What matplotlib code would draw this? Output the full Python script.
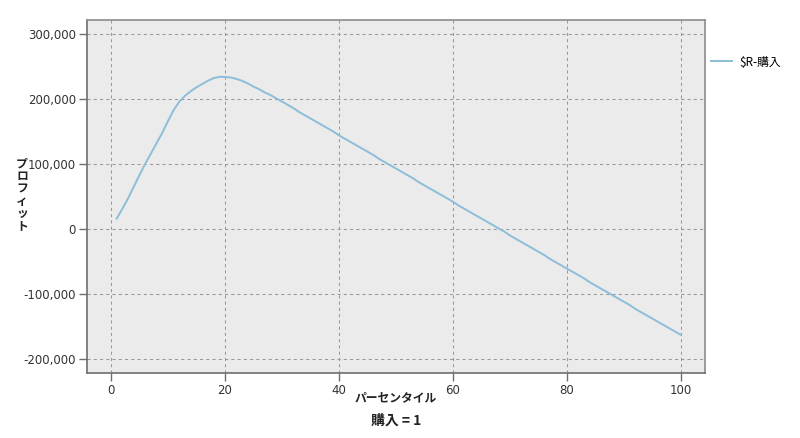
import matplotlib
matplotlib.use("Agg")
import matplotlib.pyplot as plt
from matplotlib.ticker import FuncFormatter

plt.rcParams['font.family'] = ['DejaVu Sans', 'Noto Sans CJK JP']

percentile = list(range(1, 101))
profit_k = [16, 31, 47, 65, 83, 100, 116, 132, 148, 166,
            183, 196, 205, 212, 218, 223, 228, 232, 234, 234,
            233, 231, 228, 224, 219, 215, 210, 206, 201, 196,
            191, 186, 180, 175, 170, 165, 160, 155, 150, 144,
            139, 134, 129, 124, 119, 114, 108, 103, 98, 93,
            88, 83, 78, 72, 67, 62, 57, 52, 47, 42,
            36, 31, 26, 21, 16, 11, 6, 1, -4, -10,
            -15, -20, -25, -30, -35, -40, -46, -51, -56, -61,
            -66, -71, -76, -82, -87, -92, -97, -102, -107, -112,
            -117, -123, -128, -133, -138, -143, -148, -153, -158, -163]
profit = [v * 1000 for v in profit_k]
x_ticks = [0, 20, 40, 60, 80, 100]
y_ticks = [-200000, -100000, 0, 100000, 200000, 300000]
series_label = "$R-購入"
x_label = "パーセンタイル"
y_label = "プロフィット"
panel_title = "購入 = 1"

fig = plt.figure(figsize=(8, 4.38), dpi=100)
ax = fig.add_axes([87/800, 1-373/438, 618/800, 353/438])
ax.set_facecolor('#EBEBEB')
line, = ax.plot(percentile, profit, color='#8DBDD8', lw=1.4, label=series_label)
ax.set_xlim(-4.2, 104.2)
ax.set_ylim(-221500, 321500)
ax.set_xticks(x_ticks)
ax.set_yticks(y_ticks)
ax.yaxis.set_major_formatter(FuncFormatter(lambda v, p: f"{int(v):,}"))
ax.grid(True, color='#999999', linestyle=(0, (3, 3)), linewidth=0.75)
ax.set_axisbelow(True)
for s in ax.spines.values():
    s.set_color('#8C8C8C')
    s.set_linewidth(1.2)
ax.spines['left'].set_color('#6E6E6E')
ax.spines['bottom'].set_color('#6E6E6E')
ax.tick_params(axis='both', direction='out', length=6, width=1, color='#6E6E6E',
               labelsize=8.5, labelcolor='#333333', pad=2)

fig.text(396/800, 1-398/438, x_label, ha='center', va='center', fontsize=8.5,
         fontweight='bold', family=['Noto Sans CJK JP', 'DejaVu Sans'], color='#222222')
fig.text(396/800, 1-421/438, panel_title, ha='center', va='center', fontsize=10,
         fontweight='bold', family=['Noto Sans CJK JP', 'DejaVu Sans'], color='#222222')
fig.text(22/800, 1-195/438, "\n".join(y_label), ha='center', va='center', fontsize=8.5,
         fontweight='bold', family=['Noto Sans CJK JP', 'DejaVu Sans'], color='#222222',
         linespacing=0.95)

leg = ax.legend(loc='upper left', bbox_to_anchor=(700/800, 1-45/438), bbox_transform=fig.transFigure,
                frameon=False, handlelength=1.8, handletextpad=0.6,
                prop={'family': ['Noto Sans CJK JP', 'DejaVu Sans'], 'size': 8.5})

fig.savefig('out.png', dpi=100)
